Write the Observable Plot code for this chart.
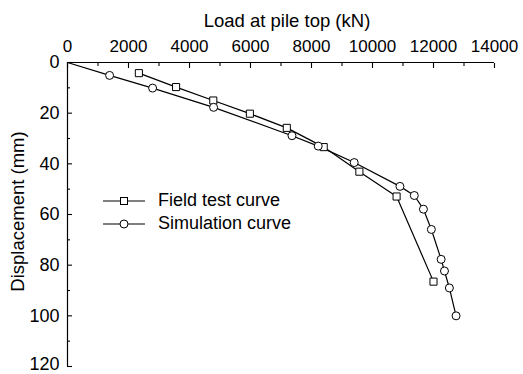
<!DOCTYPE html>
<html>
<head>
<meta charset="utf-8">
<script src="https://cdn.jsdelivr.net/npm/d3@7"></script>
<script src="https://cdn.jsdelivr.net/npm/@observablehq/plot@0.6"></script>
<style>
  html, body { margin: 0; padding: 0; background: #fff; }
  #wrap { position: relative; width: 523px; height: 374px; font-family: "Liberation Sans", Arial, sans-serif; }
  #legend { position: absolute; left: 103px; top: 189px; font-size: 18px; color: #000; line-height: 23px; }
  #legend .row { display: flex; align-items: center; height: 23px; }
  #legend svg { margin-right: 13px; }
</style>
</head>
<body>
<div id="wrap"></div>
<script>
// Static load test vs. numerical simulation: pile-top load against displacement
const fieldLoad = [2340, 3560, 4780, 5980, 7190, 8400, 9570, 10790, 12000];
const fieldDisp = [4.2, 9.7, 15.0, 20.2, 25.8, 33.4, 43.1, 52.9, 86.5];

const simLoad = [0, 1380, 2790, 4790, 7360, 8220, 9400, 10900, 11370, 11670, 11930, 12250, 12360, 12520, 12740];
const simDisp = [0, 5.1, 10.1, 17.7, 28.9, 33.0, 39.5, 48.9, 52.5, 57.9, 65.9, 77.7, 82.3, 89.0, 100.0];

const xMajorTicks = [0, 2000, 4000, 6000, 8000, 10000, 12000, 14000];
const xMinorTicks = [1000, 3000, 5000, 7000, 9000, 11000, 13000];
const yMajorTicks = [0, 20, 40, 60, 80, 100, 120];
const yMinorTicks = [10, 30, 50, 70, 90, 110];

const seriesNames = ["Field test curve", "Simulation curve"];
const xTitle = "Load at pile top (kN)";
const yTitle = "Displacement (mm)";

const field = fieldLoad.map((x, i) => ({x, y: fieldDisp[i]}));
const sim = simLoad.map((x, i) => ({x, y: simDisp[i]}));
// the simulated curve starts at the origin, which carries no marker
const simMarked = sim.filter(d => d.x > 0);

// the lowest y label sits against the bottom edge, so it is nudged up a little
const yMax = d3.max(yMajorTicks);
const yLabelsUpper = yMajorTicks.filter(d => d < yMax);
const yLabelsBottom = yMajorTicks.filter(d => d === yMax);

const chart = Plot.plot({
  width: 523,
  height: 374,
  marginLeft: 67,
  marginRight: 29,
  marginTop: 62,
  marginBottom: 8,
  style: {fontFamily: "Liberation Sans, Arial, sans-serif", fontSize: "17px", color: "#000", background: "#fff"},
  x: {domain: [0, 14000]},
  y: {domain: [0, 120], reverse: true},
  marks: [
    // axis lines along the top and left edges
    Plot.ruleY([0], {stroke: "#000", strokeWidth: 1.2}),
    Plot.ruleX([0], {stroke: "#000", strokeWidth: 1.2}),
    Plot.axisX({anchor: "top", ticks: xMajorTicks, tickSize: -5, tickPadding: 16, fontSize: 17, tickFormat: d => String(d), label: null, strokeWidth: 1.1}),
    Plot.axisX({anchor: "top", ticks: xMinorTicks, tickSize: -3, tickFormat: () => "", label: null, strokeWidth: 1.1}),
    Plot.axisY({anchor: "left", ticks: yMajorTicks, tickSize: -5, tickFormat: () => "", label: null, strokeWidth: 1.1}),
    Plot.axisY({anchor: "left", ticks: yMinorTicks, tickSize: -3, tickFormat: () => "", label: null, strokeWidth: 1.1}),
    Plot.axisY({anchor: "left", ticks: yLabelsUpper, tickSize: 0, tickPadding: 8, fontSize: 18, tickFormat: d => String(d), label: null}),
    Plot.axisY({anchor: "left", ticks: yLabelsBottom, tickSize: 0, tickPadding: 8, dy: -2, fontSize: 18, tickFormat: d => String(d), label: null}),
    // axis titles
    Plot.text([xTitle], {frameAnchor: "top", dx: 6, dy: -36, lineAnchor: "bottom", fontSize: 18.5, fill: "#000"}),
    Plot.text([yTitle], {frameAnchor: "left", dx: -49, dy: -3, rotate: -90, textAnchor: "middle", lineAnchor: "middle", fontSize: 18.5, fill: "#000"}),
    // curves
    Plot.line(field, {x: "x", y: "y", stroke: "#000", strokeWidth: 1.2}),
    Plot.line(sim, {x: "x", y: "y", stroke: "#000", strokeWidth: 1.2}),
    Plot.dot(field, {x: "x", y: "y", symbol: "square", r: 4, fill: "#fff", stroke: "#000", strokeWidth: 1}),
    Plot.dot(simMarked, {x: "x", y: "y", symbol: "circle", r: 4, fill: "#fff", stroke: "#000", strokeWidth: 1})
  ]
});

const wrap = document.getElementById("wrap");
wrap.appendChild(chart);

// legend inside the plot area
const legend = document.createElement("div");
legend.id = "legend";
const symbols = ["square", "circle"];
seriesNames.forEach((name, i) => {
  const row = document.createElement("div");
  row.className = "row";
  const sym = symbols[i] === "square"
    ? '<rect x="17.5" y="7.5" width="7" height="7" fill="#fff" stroke="#000" stroke-width="1"/>'
    : '<circle cx="21" cy="11" r="4" fill="#fff" stroke="#000" stroke-width="1"/>';
  row.innerHTML = `<svg width="42" height="22"><line x1="0" y1="11" x2="42" y2="11" stroke="#000" stroke-width="1.2"/>${sym}</svg><span>${name}</span>`;
  legend.appendChild(row);
});
wrap.appendChild(legend);
</script>
</body>
</html>
